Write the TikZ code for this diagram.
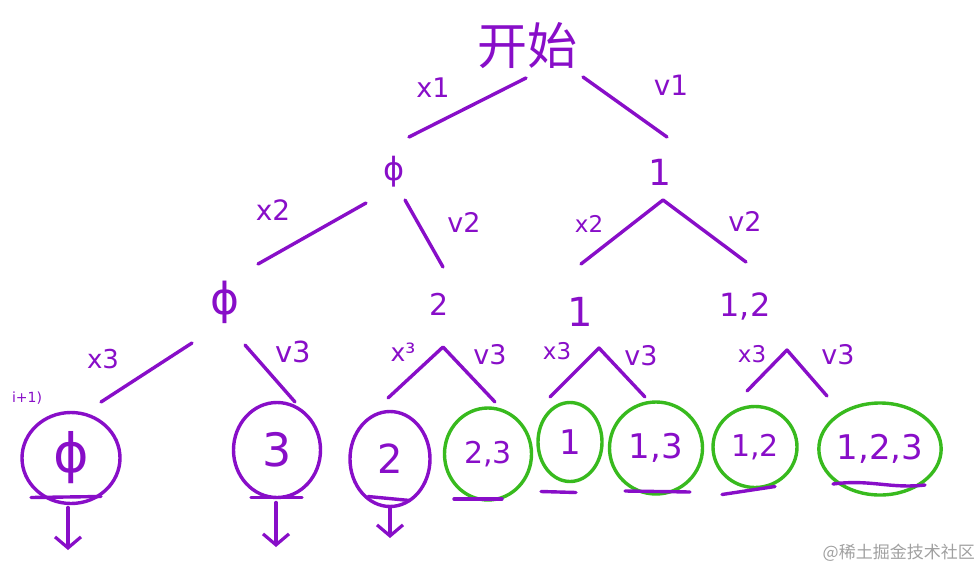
\documentclass[tikz,border=0pt]{standalone}
\usepackage{fontspec}
\setmainfont{DejaVu Sans}
\newfontfamily\cjk{Noto Sans CJK SC}
\usetikzlibrary{arrows.meta,shapes.geometric}
\definecolor{pp}{RGB}{136,14,200}
\definecolor{gg}{RGB}{56,186,30}
\definecolor{wm}{RGB}{160,160,160}
\newcommand{\fs}[1]{\fontsize{#1}{#1}\selectfont}
\begin{document}
\begin{tikzpicture}[x=1pt,y=-1pt,
  stroke/.style={draw=pp,line width=3.4pt,line cap=round,line join=round},
  lab/.style={text=pp,inner sep=0pt,font=\fs{22}},
  val/.style={text=pp,inner sep=0pt},
  pring/.style={ellipse,draw=pp,line width=3.4pt,inner sep=0pt,outer sep=0pt,text=pp},
  gring/.style={ellipse,draw=gg,line width=3.4pt,inner sep=0pt,outer sep=0pt,text=pp},
  downarrow/.style={stroke,-{Straight Barb[length=11pt,width=26pt,line width=3.2pt]}}
]
\useasboundingbox (0,0) rectangle (979,570);

% ---- level 0
\node[val,font=\cjk\fs{50}] (root) at (527,46) {开始};
\node[lab,font=\fs{27}] (lx1) at (433,88) {x1};
\node[lab,font=\fs{28}] (lv1) at (671,85) {v1};

% ---- level 1
\node[val,font=\fs{32}] (n1a) at (394,172) {ϕ};
\node[val,font=\fs{36}] (n1b) at (660,172) {1};
\node[lab,font=\fs{28}] (lx2a) at (273,210) {x2};
\node[lab,font=\fs{27}] (lv2a) at (464,222) {v2};
\node[lab,font=\fs{23}] (lx2b) at (589,224) {x2};
\node[lab,font=\fs{27}] (lv2b) at (745,221) {v2};

% ---- level 2
\node[val,font=\fs{44}] (n2a) at (225,302) {ϕ};
\node[val,font=\fs{30}] (n2b) at (439,304) {2};
\node[val,font=\fs{40}] (n2c) at (580,312) {1};
\node[val,font=\fs{32}] (n2d) at (745,306) {1,2};
\node[lab,font=\fs{26}] (lx3a) at (103,359) {x3};
\node[lab,font=\fs{29}] (lv3a) at (293,352) {v3};
\node[lab,font=\fs{25}] (lx3b) at (403,352) {x³};
\node[lab,font=\fs{27}] (lv3b) at (490,355) {v3};
\node[lab,font=\fs{23}] (lx3c) at (557,351) {x3};
\node[lab,font=\fs{27}] (lv3c) at (641,356) {v3};
\node[lab,font=\fs{23}] (lx3d) at (752,354) {x3};
\node[lab,font=\fs{27}] (lv3d) at (838,355) {v3};

% ---- level 3 (leaves)
\node[pring,minimum width=98pt,minimum height=91pt,font=\fs{54}] (l1) at (71,458) {ϕ};
\node[pring,minimum width=87pt,minimum height=95pt,font=\fs{46}] (l2) at (277,450) {3};
\node[pring,minimum width=80pt,minimum height=95pt,font=\fs{40}] (l3) at (390,459) {2};
\node[gring,minimum width=87pt,minimum height=92pt,font=\fs{30}] (l4) at (488,454) {2,3};
\node[gring,minimum width=64pt,minimum height=79pt,font=\fs{34}] (l5) at (570,442) {1};
\node[gring,minimum width=93pt,minimum height=92pt,font=\fs{34}] (l6) at (656,448) {1,3};
\node[gring,minimum width=84pt,minimum height=81pt,font=\fs{30}] (l7) at (755,447) {1,2};
\node[gring,minimum width=116pt,minimum height=92pt,font=\fs{34}] (l8) at (880,449) {1,2,3};

\node[lab,font=\fs{14}] (lstep) at (27,398) {i+1)};

% ---- edge end coordinates
\coordinate (r0a) at (526,78);  \coordinate (r1a) at (409,137);
\coordinate (r0b) at (583,77);  \coordinate (r1b) at (667,137);
\coordinate (a0) at (366,203);  \coordinate (a1) at (258,264);
\coordinate (a2) at (405,200);  \coordinate (a3) at (443,267);
\coordinate (b0) at (663,200);  \coordinate (b1) at (581,264);
\coordinate (b2) at (746,262);
\coordinate (c0) at (192,343);  \coordinate (c1) at (101,402);
\coordinate (c2) at (245,345);  \coordinate (c3) at (295,402);
\coordinate (d0) at (443,347);  \coordinate (d1) at (388,398);
\coordinate (d2) at (495,402);
\coordinate (e0) at (599,348);  \coordinate (e1) at (550,397);
\coordinate (e2) at (645,397);
\coordinate (f0) at (787,350);  \coordinate (f1) at (747,391);
\coordinate (f2) at (827,396);

% ---- connectors
\draw[stroke] (r0a) -- (r1a);
\draw[stroke] (r0b) -- (r1b);
\draw[stroke] (a0) -- (a1);
\draw[stroke] (a2) -- (a3);
\draw[stroke] (b1) -- (b0) -- (b2);
\draw[stroke] (c0) -- (c1);
\draw[stroke] (c2) -- (c3);
\draw[stroke] (d1) -- (d0) -- (d2);
\draw[stroke] (e1) -- (e0) -- (e2);
\draw[stroke] (f1) -- (f0) -- (f2);

% ---- underlines
\draw[stroke] ([xshift=-40pt,yshift=6pt]l1.south) -- ([xshift=30pt,yshift=7pt]l1.south);
\draw[stroke] ([xshift=-26pt,yshift=0pt]l2.south) -- ([xshift=25pt,yshift=0pt]l2.south);
\draw[stroke] ([xshift=-22pt,yshift=10pt]l3.south) -- ([xshift=20pt,yshift=6pt]l3.south);
\draw[stroke] ([xshift=-34pt,yshift=1pt]l4.south) -- ([xshift=14pt,yshift=1pt]l4.south);
\draw[stroke] ([xshift=-29pt,yshift=-10pt]l5.south) -- ([xshift=6pt,yshift=-11pt]l5.south);
\draw[stroke] ([xshift=-31pt,yshift=3pt]l6.south) -- ([xshift=34pt,yshift=2pt]l6.south);
\draw[stroke] ([xshift=-33pt,yshift=-7pt]l7.south) -- ([xshift=20pt,yshift=1pt]l7.south);
\draw[stroke] ([xshift=-47pt,yshift=11pt]l8.south) .. controls ([xshift=-10pt,yshift=16pt]l8.south) and ([xshift=10pt,yshift=6pt]l8.south) .. ([xshift=45pt,yshift=10pt]l8.south);

% ---- downward arrows
\coordinate (t1) at (68,550);
\coordinate (t2) at (276,547);
\coordinate (t3) at (390,538);
\draw[downarrow] ([yshift=-4pt]l1.south -| t1) -- (t1);
\draw[downarrow] ([yshift=-5pt]l2.south -| t2) -- (t2);
\draw[downarrow] ([yshift=0pt]l3.south -| t3) -- (t3);

% ---- watermark
\node[text=wm,inner sep=0pt,font=\cjk\fs{17},anchor=east] (wmark) at (975,553) {@稀土掘金技术社区};
\end{tikzpicture}
\end{document}
